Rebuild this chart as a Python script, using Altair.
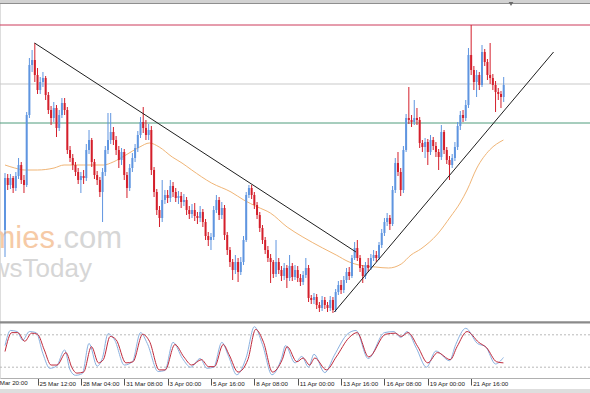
import altair as alt
import pandas as pd

# ---------------- data (price in arbitrary chart units) ----------------
first_open = 100
closes = [152,145,152,142,154,165,150,145,215,265,
          270,255,240,248,252,235,220,212,222,202,
          215,227,220,180,172,165,158,150,154,152,
          180,190,168,155,150,138,158,180,190,198,
          190,180,170,178,155,142,162,172,182,195,
          208,202,195,200,160,138,120,112,130,135,
          132,144,138,132,134,128,130,120,116,120,
          114,112,118,108,94,90,93,120,130,115,
          122,95,80,68,60,68,58,68,90,135,
          142,135,125,115,102,90,80,72,68,56,
          68,60,54,62,52,64,53,60,52,48,
          55,62,32,30,33,25,22,30,25,22,
          30,20,38,45,40,50,58,54,72,82,
          72,62,54,65,62,72,75,72,85,97,
          108,112,106,140,167,158,140,180,212,210,
          208,212,210,187,183,188,178,190,184,178,
          173,198,180,170,165,172,183,204,215,212,
          225,275,260,248,255,245,278,268,255,252,
          245,238,236,233,245]
highs = [157,156,156,154,158,172,168,155,218,272,
         280,287,262,253,258,254,238,224,228,225,
         220,232,232,223,184,176,168,162,158,160,
         186,200,192,171,159,153,162,184,217,217,
         203,194,184,182,181,158,166,177,186,199,
         213,223,210,206,204,163,141,124,150,140,
         140,150,148,142,139,138,136,133,124,126,
         127,118,124,121,111,98,97,124,135,133,
         128,125,98,83,71,75,72,73,94,138,
         145,145,138,128,118,105,93,84,76,70,
         90,72,64,67,65,75,67,65,64,56,
         59,72,65,35,37,36,28,34,33,28,
         34,33,41,49,50,54,62,63,75,88,
         90,75,65,68,72,76,80,79,88,101,
         112,117,115,144,172,178,162,184,216,243,
         215,230,222,213,190,192,191,195,193,188,
         181,205,200,183,174,176,188,208,219,220,
         230,282,305,264,260,258,285,281,271,287,
         256,249,242,239,253]
lows = [73,140,141,137,139,151,146,137,143,212,
        258,248,236,236,243,230,216,205,208,193,
        199,212,215,176,168,160,154,146,137,146,
        149,176,163,151,145,133,108,154,176,186,
        185,175,162,165,150,132,139,158,168,178,
        192,197,190,190,155,133,115,103,108,126,
        127,128,133,128,126,122,124,115,111,112,
        109,106,108,103,90,84,80,90,117,110,
        111,90,75,63,50,56,48,55,65,88,
        132,131,121,111,98,86,76,68,47,52,
        53,56,49,50,42,49,49,50,48,44,
        45,52,28,26,26,21,18,19,21,18,
        19,17,18,35,36,37,47,50,52,70,
        69,58,47,51,58,60,69,68,70,82,
        94,104,100,104,137,154,134,137,178,206,
        203,205,205,182,178,172,165,175,180,173,
        160,170,176,166,150,162,169,180,200,208,
        209,222,255,240,233,240,243,264,250,246,
        240,218,230,222,228]

# moving average (key points, bar index / value)
ma_idx = [0,3.6,7.3,12,18.1,21.8,29,36.3,39.9,44.6,49.7,53.3,56.9,61.7,65.3,68.9,
          76.2,83.4,88.1,93.2,97.9,104.1,109.9,117.2,122.2,127,130.6,136.7,141.5,
          146.2,149.8,153.4,159.6,164.3,167.9,170.5,174.1,178.8,183.9]
ma_val = [165,162,160,160,162,165,165,165,168,175,183,187,183,173,167,160,
          147,138,130,123,117,103,93,82,75,68,65,63,62,
          66,75,81,96,113,127,140,162,180,190]

# horizontal levels
level_name = ["resistance", "middle", "support"]
level_val = [305, 246, 207]
level_col = ["#cc3b5a", "#c9c9c9", "#4e9c7c"]

# trend lines
tl_id = ["down", "down", "up", "up"]
tl_idx = [10.9, 129.5, 121.5, 202.4]
tl_val = [287, 78, 18, 278]

# stochastic oscillator (key points)
k_idx = [0,2,4.5,6.5,9,11.5,14,16.5,19,22,24,26,28.5,31,34,36,38,40.5,44,47,50,52.5,
         56.5,59,62,65.5,68.5,72,74.5,77,80,82.5,85.5,89,92,95,98.5,102,103.5,107,109.5,
         112,114,118,121.5,126.5,129.5,134,140,143.5,146,148.3,151.8,155.5,159,164,166.3,
         170,174.3,177.3,181,183.9]
k_val = [60,88,86,70,86,84,45,18,22,52,15,5,8,64,22,38,82,70,24,30,84,64,
         12,14,66,36,20,36,18,20,66,40,6,38,95,62,6,36,60,28,40,
         20,44,10,42,82,88,36,84,86,75,86,55,20,50,32,62,
         92,64,58,26,38]
d_idx = [0,2.5,4.7,7.3,9.8,12,14.5,17,19.2,22.5,24.7,26.5,29,31.9,34.5,36.3,38.8,41,
         44.6,47.2,50.8,53.3,56.9,59.1,62.7,66,68.9,72.5,75.1,77.3,80.5,82.7,86,89.6,
         92.5,95.4,98.7,102.3,104.1,107.7,110,112.4,114.3,118.6,122.2,127,129.9,134.2,
         140.4,144,146.2,148.7,152.3,156,159.6,164.3,166.8,170.5,174.8,177.7,181.4,183.9]
d_val = [49,84,84,68,83,81,52,24,24,47,19,9,11,58,28,34,77,71,
         28,30,81,68,15,15,62,39,24,34,21,21,62,43,11,34,
         90,66,11,34,58,30,37,24,37,15,39,75,84,39,
         81,83,77,84,58,28,47,34,58,86,66,56,30,28]
stoch_levels = [80, 20]

# time axis labels
tick_idx = [12, 28, 44, 60, 76, 92, 108, 124, 140, 156, 172]
tick_text = ["25 Mar 12:00", "28 Mar 04:00", "31 Mar 08:00",
             "3 Apr 00:00", "5 Apr 16:00", "8 Apr 08:00", "11 Apr 00:00",
             "13 Apr 16:00", "16 Apr 08:00", "19 Apr 00:00", "21 Apr 16:00"]
edge_idx = [-4]
edge_text = ["22 Mar 20:00"]

# ---------------- frames ----------------
opens = [first_open] + closes[:-1]
candles = pd.DataFrame({
    "i": list(range(len(closes))), "open": opens, "close": closes,
    "high": highs, "low": lows,
})
candles["dir"] = ["up" if c >= o else "down" for o, c in zip(opens, closes)]
ma_df = pd.DataFrame({"i": ma_idx, "v": ma_val})
lv_df = pd.DataFrame({"name": level_name, "v": level_val})
tl_df = pd.DataFrame({"id": tl_id, "i": tl_idx, "v": tl_val})
k_df = pd.DataFrame({"i": k_idx, "v": k_val})
d_df = pd.DataFrame({"i": d_idx, "v": d_val})
sl_df = pd.DataFrame({"v": stoch_levels})
edge_df = pd.DataFrame({"i": edge_idx, "t": edge_text})
one = pd.DataFrame({"a": [0]})

W, H = 590, 378
LABEL_FONT = "Liberation Sans"
LABEL_SIZE = 6.2
label_arr = "[" + ",".join("'" + t + "'" for t in tick_text) + "]"
x_axis = alt.Axis(values=tick_idx, labelExpr=label_arr + "[round((datum.value - 12) / 16)]",
                  title=None, grid=False, tickSize=7, tickColor="#555555",
                  labelAlign="left", labelBaseline="top", labelPadding=-5,
                  labelOffset=1.5, labelFontSize=LABEL_SIZE, labelFont=LABEL_FONT,
                  labelColor="#1a1a1a", domain=True, domainColor="#b0b0b0",
                  labelOverlap=False, labelFlush=False)
xs = alt.Scale(domain=[0, 214], nice=False, zero=False)


def X(field):
    return alt.X(field, type="quantitative", scale=xs, axis=x_axis)


ps = alt.Scale(domain=[0, 330], range=[330, 0], nice=False, zero=False)
ss = alt.Scale(domain=[0, 100], range=[378, 324], nice=False, zero=False)


def YP(field):
    return alt.Y(field, type="quantitative", scale=ps, axis=None)


def YS(field):
    return alt.Y(field, type="quantitative", scale=ss, axis=None)


layers = []

# decorations
layers.append(alt.Chart(one).mark_rect(color="#d2d2d2").encode(
    x=alt.value(0), x2=alt.value(W), y=alt.value(0), y2=alt.value(3)))
layers.append(alt.Chart(one).mark_rule(color="#8e8e8e", strokeWidth=1).encode(
    x=alt.value(0), x2=alt.value(W), y=alt.value(3.5)))
layers.append(alt.Chart(one).mark_rect(color="#8a8a8a").encode(
    x=alt.value(0), x2=alt.value(W), y=alt.value(321.2), y2=alt.value(323.4)))
layers.append(alt.Chart(one).mark_rect(color="#dedede").encode(
    x=alt.value(0), x2=alt.value(W), y=alt.value(389), y2=alt.value(393)))
layers.append(alt.Chart(one).mark_point(shape="triangle-down", filled=True, size=22,
                                        color="#6a6a6a", opacity=1).encode(
    x=alt.value(511), y=alt.value(4)))

# watermark
layers.append(alt.Chart(one).mark_text(text="Economies", align="right", baseline="alphabetic",
                                       fontSize=31, font="Liberation Sans", color="#f6caa6").encode(
    x=alt.value(55), y=alt.value(248)))
layers.append(alt.Chart(one).mark_text(text=".com", align="left", baseline="alphabetic",
                                       fontSize=31, font="Liberation Sans", color="#d6d6d6").encode(
    x=alt.value(55), y=alt.value(248)))
layers.append(alt.Chart(one).mark_text(text="NewsToday", align="right", baseline="alphabetic",
                                       fontSize=26, font="Liberation Sans", color="#d6d6d6").encode(
    x=alt.value(92), y=alt.value(277)))

# horizontal levels
layers.append(alt.Chart(lv_df).mark_rule(strokeWidth=1).encode(
    x=alt.value(0), x2=alt.value(W), y=YP("v"),
    color=alt.Color("name:N", scale=alt.Scale(domain=level_name, range=level_col), legend=None)))

# moving average
layers.append(alt.Chart(ma_df).mark_line(color="#f0b576", strokeWidth=1, interpolate="monotone").encode(
    x=X("i"), y=YP("v")))

# candles
cscale = alt.Scale(domain=["up", "down"], range=["#5f95e0", "#d41f2b"])
layers.append(alt.Chart(candles).mark_rule(strokeWidth=1).encode(
    x=X("i"), y=YP("low"), y2="high",
    color=alt.Color("dir:N", scale=cscale, legend=None)))
layers.append(alt.Chart(candles).mark_bar(size=2).encode(
    x=X("i"), y=YP("open"), y2="close",
    color=alt.Color("dir:N", scale=cscale, legend=None)))

# trend lines
layers.append(alt.Chart(tl_df).mark_line(color="#1e1e1e", strokeWidth=1).encode(
    x=X("i"), y=YP("v"), detail="id:N"))

# stochastic
layers.append(alt.Chart(sl_df).mark_rule(color="#b9b9b9", strokeDash=[2, 2], strokeWidth=1).encode(
    x=alt.value(0), x2=alt.value(W), y=YS("v")))
layers.append(alt.Chart(k_df).mark_line(color="#8ab1e0", strokeWidth=1, interpolate="monotone").encode(
    x=X("i"), y=YS("v")))
layers.append(alt.Chart(d_df).mark_line(color="#c02a3c", strokeWidth=1, interpolate="monotone").encode(
    x=X("i"), y=YS("v")))

# time label of the bar just left of the visible range (cut by the edge)
layers.append(alt.Chart(edge_df).mark_text(align="left", baseline="top", dx=-3, dy=2,
                                           fontSize=LABEL_SIZE, font=LABEL_FONT,
                                           color="#1a1a1a").encode(
    x=X("i"), y=alt.value(H), text="t:N"))

chart = alt.layer(*layers).resolve_scale(y="independent", color="independent").properties(
    width=W, height=H,
    padding={"left": 0, "top": 0, "right": 0, "bottom": 15},
    autosize=alt.AutoSizeParams(type="none"),
).configure_view(stroke=None).configure(background="white")

chart.save("out.html", embed_options={"renderer": "svg", "actions": False})
